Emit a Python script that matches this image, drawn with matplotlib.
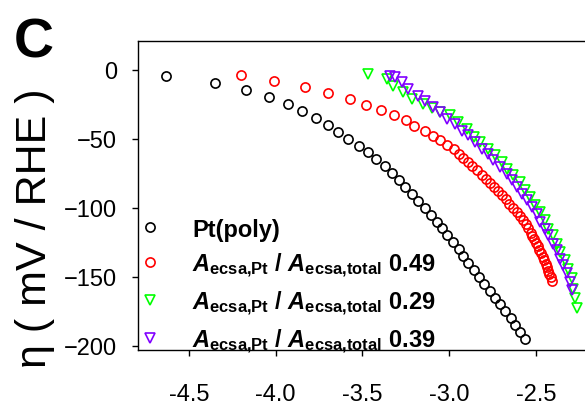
import matplotlib
matplotlib.use('Agg')
import matplotlib.pyplot as plt

# ==================== DATA ====================

# Pt(poly) - black circles
pt_x = [-4.63, -4.35, -4.17, -4.04, -3.93, -3.85, -3.77, -3.70, -3.64, -3.58,
        -3.52, -3.47, -3.42, -3.37, -3.33, -3.29, -3.255, -3.215, -3.18, -3.14,
        -3.105, -3.07, -3.04, -3.01, -2.975, -2.945, -2.92, -2.89, -2.857, -2.827,
        -2.796, -2.765, -2.735, -2.705, -2.675, -2.645, -2.617, -2.59, -2.563]
pt_y = [-5, -10, -15, -20, -25, -30, -35, -40, -45, -50,
        -55, -60, -65, -70, -75, -80, -85, -90, -95, -100,
        -105, -110, -115, -120, -125, -130, -135, -140, -145, -150,
        -155, -160, -165, -170, -175, -180, -185, -190, -195]

# ratio 0.49 - red circles
r49_x = [-4.20, -4.01, -3.83, -3.70, -3.57, -3.48, -3.39, -3.32, -3.25, -3.20,
         -3.14, -3.095, -3.05, -3.01, -2.97, -2.943, -2.918, -2.89, -2.865, -2.838,
         -2.812, -2.787, -2.765, -2.738, -2.715, -2.693, -2.672, -2.652, -2.630, -2.611,
         -2.592, -2.575, -2.559, -2.544, -2.530, -2.519, -2.509, -2.499, -2.489, -2.480,
         -2.470, -2.461, -2.452, -2.443, -2.435, -2.428, -2.421, -2.414, -2.407]
r49_y = [-3.6, -8.4, -12.7, -16.8, -21.2, -25.3, -28.9, -33.2, -36.8, -40.9,
         -44.8, -48.1, -51.3, -54.4, -57.8, -61.0, -64.0, -67.0, -70.0, -73.0,
         -76.0, -79.0, -82.0, -85.0, -88.0, -91.0, -94.0, -97.0, -100.0, -103.0,
         -106.0, -109.0, -112.0, -115.0, -118.0, -120.5, -123.0, -125.5, -128.0, -130.5,
         -133.0, -135.5, -138.0, -140.5, -143.0, -145.5, -148.0, -150.5, -153.0]

# ratio 0.29 - green triangles
r29_x = [-3.466, -3.360, -3.322, -3.264, -3.216, -3.149, -3.101, -3.052, -2.994, -2.946,
         -2.898, -2.859, -2.821, -2.774, -2.735, -2.696, -2.668, -2.629, -2.591, -2.562,
         -2.533, -2.504, -2.475, -2.446, -2.427, -2.398, -2.379, -2.360, -2.331, -2.312,
         -2.293, -2.283, -2.273, -2.264]
r29_y = [-3.1, -6.7, -11.6, -16.3, -21.2, -24.8, -27.6, -30.5, -33.2, -38.0,
         -42.8, -48.8, -52.5, -57.3, -62.1, -66.9, -71.7, -76.6, -81.4, -87.4,
         -92.2, -98.3, -103.0, -109.1, -115.1, -119.9, -125.9, -131.9, -138.0, -144.0,
         -151.2, -158.5, -165.7, -172.9]

# ratio 0.39 - purple triangles
r39_x = [-3.341, -3.312, -3.273, -3.235, -3.178, -3.139, -3.091, -3.052, -3.014, -2.966,
         -2.927, -2.889, -2.850, -2.812, -2.774, -2.745, -2.706, -2.668, -2.639, -2.610,
         -2.581, -2.552, -2.523, -2.494, -2.475, -2.446, -2.427, -2.398, -2.379, -2.360,
         -2.341, -2.321, -2.302, -2.293]
r39_y = [-4.3, -5.5, -9.1, -13.9, -18.8, -22.4, -27.2, -30.8, -35.6, -39.2,
         -44.1, -47.7, -52.5, -57.3, -60.9, -65.8, -70.5, -75.4, -80.2, -85.0,
         -89.8, -94.7, -99.4, -104.3, -110.3, -115.1, -119.9, -125.9, -130.8, -136.8,
         -141.6, -147.6, -153.6, -159.7]

labels = ['Pt(poly)',
          r'$A_{\rm ecsa{,}Pt}$ / $A_{\rm ecsa{,}total}$ 0.49',
          r'$A_{\rm ecsa{,}Pt}$ / $A_{\rm ecsa{,}total}$ 0.29',
          r'$A_{\rm ecsa{,}Pt}$ / $A_{\rm ecsa{,}total}$ 0.39']
x_ticks = [-4.5, -4.0, -3.5, -3.0, -2.5]
y_ticks = [0, -50, -100, -150, -200]

# ==================== PLOT ====================

plt.rcParams['font.family'] = ['Liberation Sans', 'DejaVu Sans']
plt.rcParams['mathtext.fontset'] = 'custom'
plt.rcParams['mathtext.it'] = 'Liberation Sans:italic:bold'
plt.rcParams['mathtext.rm'] = 'Liberation Sans:bold'
plt.rcParams['mathtext.bf'] = 'Liberation Sans:bold'

fig = plt.figure(figsize=(5.85, 4.06), dpi=100)
ax = fig.add_axes([138 / 585, 55 / 406, 1 - 138 / 585, 309 / 406])

style = dict(linestyle='none', markerfacecolor='none')
ax.plot(pt_x, pt_y, marker='o', ms=6.6, mew=1.2, color='black', **style)
ax.plot(r49_x, r49_y, marker='o', ms=6.6, mew=1.2, color='#ff0000', **style)
ax.plot(r29_x, r29_y, marker='v', ms=7.5, mew=1.2, color='#00ff00', **style)
ax.plot(r39_x, r39_y, marker='v', ms=7.5, mew=1.2, color='#8000ff', **style)

ax.set_xlim(-4.794, -2.216)
ax.set_ylim(-203, 20.7)
ax.set_xticks(x_ticks)
ax.set_xticklabels([f'{t:.1f}' for t in x_ticks])
ax.set_yticks(y_ticks)
ax.tick_params(labelsize=17, length=4, width=1)
ax.tick_params(axis='x', pad=20)
ax.tick_params(axis='y', pad=11)
ax.spines['right'].set_visible(False)
for s in ['left', 'bottom', 'top']:
    ax.spines[s].set_linewidth(1)

# legend sits in the lower left corner
leg = ax.legend(labels, loc='lower left', bbox_to_anchor=(0.0, -0.015),
                frameon=False, prop={'weight': 'bold', 'size': 17},
                handlelength=1.0, handletextpad=1.3, labelspacing=0.42,
                borderpad=0.0, borderaxespad=0.0)

fig.text(35 / 585, 1 - 228 / 406, 'η ( mV / RHE )', rotation=90,
         fontsize=31, ha='center', va='center')
fig.text(34 / 585, 1 - 43 / 406, 'C', fontsize=40, fontweight='bold',
         ha='center', va='center')

fig.savefig('out.png', dpi=100)
